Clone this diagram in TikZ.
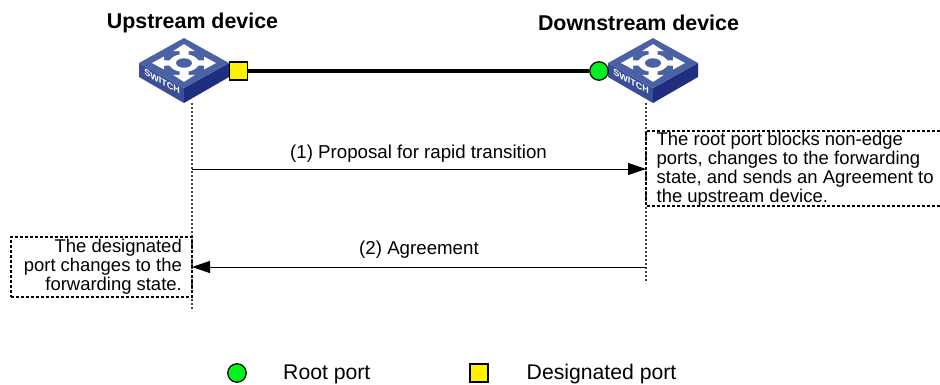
\documentclass[tikz,border=0pt]{standalone}
\usepackage{fontspec}
\setmainfont{Liberation Sans}
\usetikzlibrary{arrows.meta}
\definecolor{swtop}{HTML}{4A62A4}
\definecolor{swleft}{HTML}{3B4F98}
\definecolor{swright}{HTML}{202E80}
\definecolor{portgreen}{HTML}{00F020}
\newcommand{\swarm}[1]{\fill[white,rotate=#1] (9,-4.5) -- (20,-4.5) -- (20,-11) -- (32,0) -- (20,11) -- (20,4.5) -- (9,4.5) -- cycle;}
\tikzset{
  x=1pt,y=-1pt,
  title/.style={font=\fontsize{21.4}{25}\selectfont\bfseries,inner sep=0pt},
  body/.style={font=\fontsize{18.7}{19}\selectfont,inner sep=0pt},
  boxtext/.style={font=\fontsize{18.45}{19}\selectfont,inner sep=0pt},
  legendtext/.style={font=\fontsize{21.2}{25}\selectfont,inner sep=0pt},
  dashbox/.style={line width=1.5pt,dash pattern=on 3pt off 2pt},
  life/.style={line width=1.5pt,dash pattern=on 2pt off 2pt,black!75},
  msg/.style={line width=1pt,-{Triangle[length=18pt,width=12pt]}},
  rootport/.style={circle,draw=black,line width=1.2pt,fill=portgreen,minimum size=18.5pt,inner sep=0pt},
  desigport/.style={rectangle,draw=black,line width=1.2pt,fill=yellow,minimum size=18pt,inner sep=0pt},
  switchdev/.pic={
    \fill[swleft] (-45,0) -- (0,25) -- (0,40) -- (-45,14) -- cycle;
    \fill[swright] (45,0) -- (0,25) -- (0,40) -- (45,14) -- cycle;
    \fill[swtop] (0,-25) -- (45,0) -- (0,25) -- (-45,0) -- cycle;
    \begin{scope}[yscale=0.59]
      \swarm{0}\swarm{90}\swarm{180}\swarm{270}
      \fill[white] (0,0) circle (15);
      \fill[swtop] (0,0) circle (8);
    \end{scope}
    \node[white,font=\fontsize{9}{10}\selectfont\bfseries,inner sep=0pt,yslant=-0.55] at (-22,18.5) {SWITCH};
  }
}
\begin{document}
\begin{tikzpicture}
\useasboundingbox (0,0) rectangle (940,384);
\pic (upsw) at (184,63) {switchdev};
\pic (downsw) at (653,63) {switchdev};
\node[title] (uptitle) at (192.5,23) {Upstream device};
\node[title] (downtitle) at (638.5,23) {Downstream device};
\node[desigport] (dp) at (238.5,71) {};
\node[rootport] (rp) at (599,71) {};
\draw[line width=4pt] (dp) -- (rp);
\coordinate (upend) at (192,309);
\coordinate (downend) at (646,283);
\coordinate (upstart) at (192,103);
\coordinate (downstart) at (646,103);
\draw[life] (upstart) -- (upend);
\draw[life] (downstart) -- (downend);
\coordinate (m1a) at (192,169);
\coordinate (m1b) at (646,169);
\coordinate (m2a) at (646,267);
\coordinate (m2b) at (192,267);
\draw[msg] (m1a) -- (m1b);
\draw[msg] (m2a) -- (m2b);
\node[body] (m1l) at (418.5,154) {(1) Proposal for rapid transition};
\node[body] (m2l) at (419,250) {(2) Agreement};
\node[boxtext,anchor=west,align=left] (rbox) at (656.5,169) {The root port blocks non-edge\\ports, changes to the forwarding\\state, and sends an Agreement to\\the upstream device.};
\coordinate (rtl) at (646,131);
\coordinate (rtr) at (940,131);
\coordinate (rbl) at (646,206);
\coordinate (rbr) at (940,206);
\draw[dashbox] (rtr) -- (rtl) -- (rbl) -- (rbr);
\node[draw=black,dashbox,outer sep=0pt,inner sep=0pt,anchor=north west,minimum width=181pt,minimum height=60pt] (lbox) at (11,237) {};
\node[boxtext,anchor=east,align=right] (ltext) at (182,267) {The designated\\port changes to the\\forwarding state.};
\node[rootport] (lr) at (237,373) {};
\node[legendtext,anchor=west] (lrt) at (283,374) {Root port};
\node[desigport] (ld) at (479,373) {};
\node[legendtext,anchor=west] (ldt) at (526.5,374) {Designated port};
\end{tikzpicture}
\end{document}
